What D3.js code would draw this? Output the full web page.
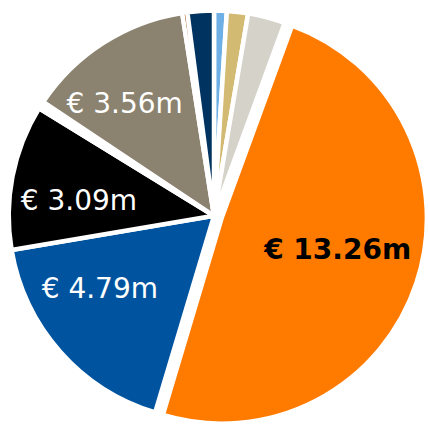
<!DOCTYPE html>
<html>
<head>
<meta charset="utf-8">
<script src="https://cdn.jsdelivr.net/npm/d3@7"></script>
<style>
  html, body { margin: 0; padding: 0; background: #ffffff; }
  svg { display: block; }
</style>
</head>
<body>
<svg id="chart" width="428" height="425"></svg>
<script>
// ---- data (values in € million, clockwise from 12 o'clock) ----
const categories = ["Segment A", "Segment B", "Segment C", "Segment D", "Segment E",
                    "Segment F", "Segment G", "Segment H", "Segment I", "Segment J"];
const values = [0.27, 0.45, 0.79, 13.26, 4.79, 3.09, 0.16, 3.56, 0.11, 0.56];
const labels = ["", "", "", "€ 13.26m", "€ 4.79m", "€ 3.09m", "", "€ 3.56m", "", ""];

// ---- styles ----
const colors = ["#6EB0E6", "#D2BA72", "#D5D2CA", "#FF7B00", "#00549F",
                "#000000", "#FFFFFF", "#8B8370", "#A0520F", "#00335F"];
const labelColors = ["#fff", "#fff", "#fff", "#000", "#fff", "#fff", "#fff", "#fff", "#fff", "#fff"];
const labelBold = [false, false, false, true, false, false, false, false, false, false];
const exploded = [0, 0, 0, 8, 0, 0, 0, 0, 0, 0];
// label placement: shift from mid-angle (deg) and distance from slice centre (px)
const labelShift = [0, 0, 0, -3.6, 9.2, -4.45, 0, -5.7, 0, 0];
const labelRadius = [0, 0, 0, 120, 135, 136, 0, 144, 0, 0];

const cx = 214, cy = 215.8, R = 205.3;

const svg = d3.select("#chart");
const g = svg.append("g").attr("transform", `translate(${cx},${cy})`);

const pie = d3.pie().sort(null).value(d => d.value).startAngle(0).endAngle(2 * Math.PI);
const arc = d3.arc().innerRadius(0).outerRadius(R);

const data = categories.map((c, i) => ({ name: c, value: values[i], i }));
const arcs = pie(data);

function offset(a, dist) {
  const mid = (a.startAngle + a.endAngle) / 2;
  return [Math.sin(mid) * dist, -Math.cos(mid) * dist];
}

g.selectAll("path.slice")
  .data(arcs)
  .join("path")
  .attr("class", "slice")
  .attr("d", arc)
  .attr("fill", d => colors[d.data.i])
  .attr("stroke", "#ffffff")
  .attr("stroke-width", 4.5)
  .attr("stroke-linejoin", "round")
  .attr("transform", d => {
    const [dx, dy] = offset(d, exploded[d.data.i]);
    return `translate(${dx},${dy})`;
  });

g.selectAll("text.lbl")
  .data(arcs.filter(d => labels[d.data.i] !== ""))
  .join("text")
  .attr("class", "lbl")
  .attr("transform", d => {
    const i = d.data.i;
    const [ex, ey] = offset(d, exploded[i]);
    const mid = (d.startAngle + d.endAngle) / 2 + labelShift[i] * Math.PI / 180;
    const x = ex + Math.sin(mid) * labelRadius[i];
    const y = ey - Math.cos(mid) * labelRadius[i];
    return `translate(${x},${y})`;
  })
  .attr("text-anchor", "middle")
  .attr("dy", "0.35em")
  .attr("font-family", "'DejaVu Sans', Verdana, sans-serif")
  .attr("font-size", 28)
  .attr("font-weight", d => labelBold[d.data.i] ? "bold" : "normal")
  .attr("fill", d => labelColors[d.data.i])
  .text(d => labels[d.data.i]);
</script>
</body>
</html>
